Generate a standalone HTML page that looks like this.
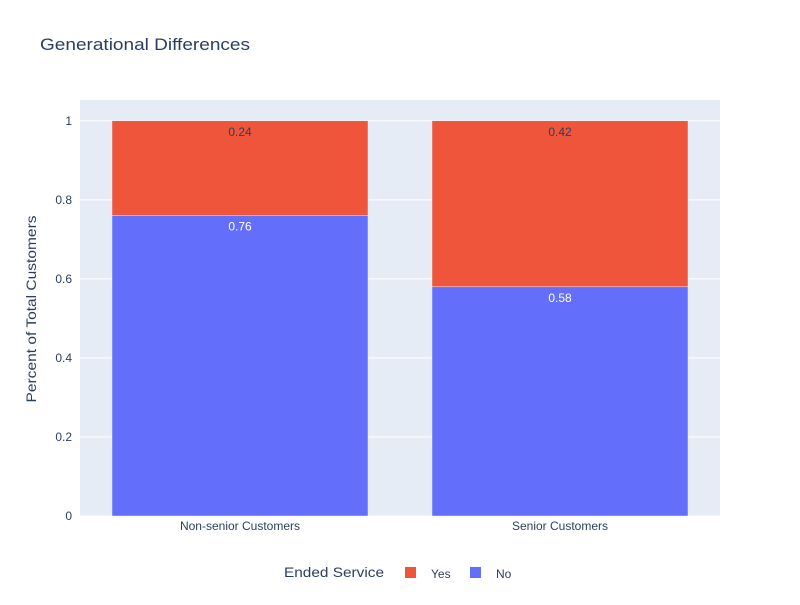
<!DOCTYPE html>
<html><head><meta charset="utf-8">
<style>
body{margin:0;background:#fff;font-family:"Liberation Sans",Arial,sans-serif;}
svg text{font-family:"Liberation Sans",Arial,sans-serif;}
</style></head>
<body>
<svg id="chart" width="800" height="600" xmlns="http://www.w3.org/2000/svg">
<rect width="800" height="600" fill="#fff"/>
<text x="40" y="50" font-size="17" textLength="210" lengthAdjust="spacingAndGlyphs" fill="#2a3f5f">Generational Differences</text>
<rect x="80" y="100" width="640" height="416" fill="#e5ecf6"/>
<g id="grid"></g>
<g id="bars"></g>
<g id="labels"></g>
<text transform="translate(36,309) rotate(-90)" text-anchor="middle" font-size="14" textLength="187" lengthAdjust="spacingAndGlyphs" fill="#2a3f5f">Percent of Total Customers</text>
<g>
<text x="284" y="577" font-size="14" textLength="100" lengthAdjust="spacingAndGlyphs" fill="#2a3f5f">Ended Service</text>
<rect x="405" y="567" width="11" height="11" fill="#ef553b"/>
<text x="431" y="578" font-size="12" fill="#2a3f5f">Yes</text>
<rect x="470" y="567" width="11" height="11" fill="#636efa"/>
<text x="496" y="578" font-size="12" fill="#2a3f5f">No</text>
</g>
</svg>
<script>
const categories=["Non-senior Customers","Senior Customers"];
const noValues=[0.76,0.58];
const yesValues=[0.24,0.42];
const yTicks=[0,0.2,0.4,0.6,0.8,1];
const yTickLabels=["0","0.2","0.4","0.6","0.8","1"];
const NS="http://www.w3.org/2000/svg";
const px0=80,pw=640,py0=100,ph=416,ymax=1.0526;
function y(v){return py0+ph-(v/ymax)*ph;}
function xc(i){return px0+pw/categories.length*(i+0.5);}
const bw=pw/categories.length*0.8;
function mk(tag,attrs,parent){const e=document.createElementNS(NS,tag);for(const k in attrs)e.setAttribute(k,attrs[k]);parent.appendChild(e);return e;}
const grid=document.getElementById('grid'),bars=document.getElementById('bars'),labels=document.getElementById('labels');
yTicks.forEach((t,i)=>{
 const l=mk('line',{x1:px0,x2:px0+pw,y1:y(t),y2:y(t),stroke:'#fff','stroke-width':1},grid);
 
 
 const tx=mk('text',{x:72,y:y(t)+4,'text-anchor':'end','font-size':12,fill:'#2a3f5f'},grid);
 tx.textContent=yTickLabels[i];
 
 
});
categories.forEach((c,i)=>{
 const x=xc(i)-bw/2;
 const b1=mk('rect',{x:x,y:y(noValues[i]),width:bw,height:y(0)-y(noValues[i]),fill:'#636efa',stroke:'#e5ecf6','stroke-width':0.5},bars);
 
 
 const top=noValues[i]+yesValues[i];
 const b2=mk('rect',{x:x,y:y(top),width:bw,height:y(noValues[i])-y(top),fill:'#ef553b',stroke:'#e5ecf6','stroke-width':0.5},bars);
 
 
 const t1=mk('text',{x:xc(i),y:y(noValues[i])+15,'text-anchor':'middle','font-size':12,fill:'#fff'},labels);
 t1.textContent=noValues[i].toFixed(2);
 
 
 const t2=mk('text',{x:xc(i),y:y(top)+15,'text-anchor':'middle','font-size':12,fill:'#2a3f5f'},labels);
 t2.textContent=yesValues[i].toFixed(2);
 
 
 const xl=mk('text',{x:xc(i),y:530,'text-anchor':'middle','font-size':12,fill:'#2a3f5f'},labels);
 xl.textContent=c;
 
 
});
</script>
</body></html>
